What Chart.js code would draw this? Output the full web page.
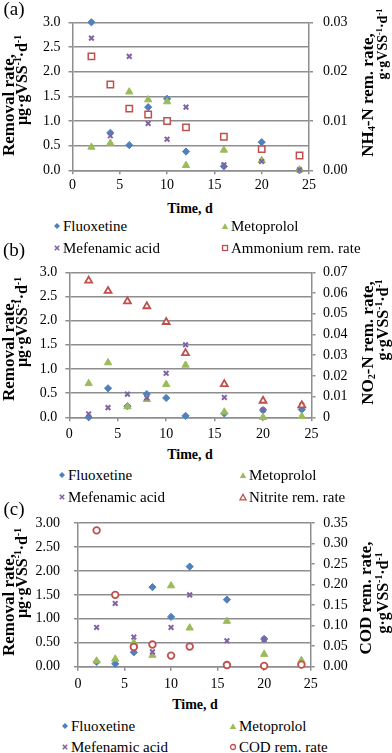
<!DOCTYPE html>
<html lang="en">
<head>
<meta charset="UTF-8">
<title>Removal rates</title>
<script src="https://cdn.jsdelivr.net/npm/chart.js"></script>
<style>
body{margin:0;background:#fff;font-family:"Liberation Serif",serif;color:#000}
#page{position:relative;width:392px;height:753px;overflow:hidden}
canvas{position:absolute;left:0}
.t{position:absolute;white-space:nowrap;line-height:1}
.ctr{transform:translate(-50%,-50%)}
.rot{transform:translate(-50%,-50%) rotate(-90deg);font-weight:bold}
.lg{position:absolute;font-family:"Liberation Serif",serif;font-size:15px;white-space:nowrap;line-height:16px;display:flex;align-items:center}
.lg span{margin-left:2px}
sub,sup{font-size:0.6em;line-height:0}
sup{vertical-align:0.6em}
sub{vertical-align:-0.2em}
</style>
</head>
<body>
<div id="page">
    <canvas id="chartA" width="392" height="195" style="top:0px"></canvas>
    <canvas id="chartB" width="392" height="195" style="top:250px"></canvas>
    <canvas id="chartC" width="392" height="195" style="top:500px"></canvas>

    <!-- panel labels -->
    <div class="t ctr" style="left:14px;top:8px;font-size:19px">(a)</div>
    <div class="t ctr" style="left:14px;top:249px;font-size:19px">(b)</div>
    <div class="t ctr" style="left:14px;top:508px;font-size:19px">(c)</div>

    <!-- axis titles (a) -->
    <div class="t rot" style="left:8px;top:105px;font-size:17px">Removal rate,</div>
    <div class="t rot" style="left:22px;top:80px;font-size:16px">μg·gVSS<sup>-1</sup>·d<sup>-1</sup></div>
    <div class="t rot" style="left:367px;top:95px;font-size:17px">NH<sub>4</sub>-N rem. rate,</div>
    <div class="t rot" style="left:383px;top:44px;font-size:14px">g·gVSS<sup>-1</sup>·d<sup>-1</sup></div>
    <div class="t ctr" style="left:190px;top:209px;font-size:14px;font-weight:bold">Time, d</div>

    <!-- axis titles (b) -->
    <div class="t rot" style="left:8px;top:350px;font-size:17px">Removal rate,</div>
    <div class="t rot" style="left:22px;top:322px;font-size:16px">μg·gVSS<sup>-1</sup>·d<sup>-1</sup></div>
    <div class="t rot" style="left:367px;top:343px;font-size:17px">NO<sub>2</sub>-N rem. rate,</div>
    <div class="t rot" style="left:383px;top:320px;font-size:16px">g·gVSS<sup>-1</sup>·d<sup>-1</sup></div>
    <div class="t ctr" style="left:190px;top:455px;font-size:14px;font-weight:bold">Time, d</div>

    <!-- axis titles (c) -->
    <div class="t rot" style="left:8px;top:605px;font-size:17px">Removal rate,</div>
    <div class="t rot" style="left:22px;top:573px;font-size:16px">μg·gVSS<sup>-1</sup>·d<sup>-1</sup></div>
    <div class="t rot" style="left:365px;top:598px;font-size:17px">COD rem. rate,</div>
    <div class="t rot" style="left:383px;top:593px;font-size:16px">g·gVSS<sup>-1</sup>·d<sup>-1</sup></div>
    <div class="t ctr" style="left:195px;top:705px;font-size:14px;font-weight:bold">Time, d</div>

    <div id="legends"></div>
</div>

<script>
    // sampling days
    const days = [2, 4, 6, 8, 10, 12, 16, 20, 24];

    // (a) ammonium period
    const fluoxA = [3.0, 0.76, 0.51, 1.28, 1.45, 0.38, 0.08, 0.57, 0.0];
    const metoA = [0.47, 0.55, 1.59, 1.43, 1.39, 0.10, 0.41, 0.20, 0.01];
    const mefenA = [2.68, 0.70, 2.31, 0.95, 0.63, 1.28, 0.11, 0.18, 0.01];
    const ammoniumA = [0.0231, 0.0174, 0.0125, 0.0113, 0.0100, 0.0087, 0.0068, 0.0043, 0.0030];

    // (b) nitrite period
    const fluoxB = [0.0, 0.60, 0.23, 0.48, 0.40, 0.03, 0.08, 0.15, 0.16];
    const metoB = [0.70, 1.13, 0.22, 0.37, 0.68, 1.08, 0.11, 0.0, 0.02];
    const mefenB = [0.07, 0.20, 0.48, 0.40, 0.91, 1.50, 0.41, 0.15, 0.25];
    const nitriteB = [0.066, 0.061, 0.056, 0.0536, 0.046, 0.031, 0.016, 0.008, 0.0058];

    // (c) COD period
    const fluoxC = [0.10, 0.06, 0.30, 1.66, 1.04, 2.09, 1.40, 0.58, 0.06];
    const metoC = [0.12, 0.16, 0.50, 0.24, 1.69, 0.81, 0.95, 0.26, 0.13];
    const mefenC = [0.82, 1.32, 0.62, 0.31, 0.82, 1.50, 0.54, 0.57, 0.04];
    const codC = [0.332, 0.175, 0.048, 0.054, 0.027, 0.049, 0.004, 0.002, 0.005];

    const BLUE = '#4F81BD', GREEN = '#9BBB59', PURPLE = '#8064A2', RED = '#C0504D';
    const GRID = '#8e8e8e';

    Chart.defaults.font.family = '"Liberation Serif", serif';
    Chart.defaults.font.size = 14;
    Chart.defaults.color = '#000';

    const pts = arr => days.map((d, i) => ({ x: d, y: arr[i] }));

    function drug(label, arr, style) {
        const base = { label: label, data: pts(arr), yAxisID: 'y', clip: false };
        if (style === 'diamond') return Object.assign(base, { pointStyle: 'rectRot', pointRadius: 3.6, backgroundColor: BLUE, borderColor: BLUE, borderWidth: 1, order: 3 });
        if (style === 'tri') return Object.assign(base, { pointStyle: 'triangle', pointRadius: 4.2, backgroundColor: GREEN, borderColor: GREEN, borderWidth: 1, order: 2 });
        return Object.assign(base, { pointStyle: 'crossRot', pointRadius: 3.3, borderColor: PURPLE, borderWidth: 2, order: 1 });
    }

    function makePanel(id, canvasTop, box, datasets, left, right) {
        const xHeight = canvasTop + 195 - box.bottom;
        const tickFont = { family: '"Liberation Serif", serif', size: 14 };
        new Chart(document.getElementById(id), {
            type: 'scatter',
            data: { datasets: datasets },
            options: {
                responsive: false,
                animation: false,
                devicePixelRatio: 1,
                layout: { padding: { top: box.top - canvasTop, left: 0, right: 0, bottom: 0 } },
                plugins: { legend: { display: false }, tooltip: { enabled: false } },
                scales: {
                    x: {
                        type: 'linear', min: 0, max: 25,
                        ticks: { stepSize: 5, padding: box.xPad, font: tickFont },
                        grid: { drawOnChartArea: false, tickLength: 4, color: GRID, lineWidth: 1.5 },
                        border: { color: GRID, width: 1.5 },
                        afterFit: s => { s.height = xHeight; }
                    },
                    y: {
                        position: 'left', min: 0, max: 3,
                        ticks: { stepSize: 0.5, padding: box.lPad, font: tickFont, callback: v => v.toFixed(left.dec) },
                        grid: { tickLength: 4, color: GRID, lineWidth: 1.5 },
                        border: { color: GRID, width: 1.5 },
                        afterFit: s => { s.width = box.left; }
                    },
                    y2: {
                        position: 'right', min: 0, max: right.max,
                        ticks: { stepSize: right.step, padding: box.rPad, font: tickFont, callback: right.fmt },
                        grid: { drawOnChartArea: false, tickLength: 4, color: GRID, lineWidth: 1.5 },
                        border: { color: GRID, width: 1.5 },
                        afterFit: s => { s.width = 392 - box.right; }
                    }
                }
            }
        });
    }

    makePanel('chartA', 0, { left: 72.5, right: 309, top: 22.3, bottom: 170.3, xPad: 3, lPad: 8, rPad: 10 }, [
        drug('Fluoxetine', fluoxA, 'diamond'),
        drug('Metoprolol', metoA, 'tri'),
        drug('Mefenamic acid', mefenA, 'x'),
        { label: 'Ammonium rem. rate', data: pts(ammoniumA), yAxisID: 'y2', clip: false, order: 0,
          pointStyle: 'rect', pointRadius: 4.5, backgroundColor: '#fff', borderColor: RED, borderWidth: 1.5 }
    ], { dec: 1 }, { max: 0.03, step: 0.01, fmt: v => v.toFixed(2) });

    makePanel('chartB', 250, { left: 69.3, right: 311.5, top: 272.3, bottom: 417.3, xPad: 5, lPad: 8, rPad: 7.5 }, [
        drug('Fluoxetine', fluoxB, 'diamond'),
        drug('Metoprolol', metoB, 'tri'),
        drug('Mefenamic acid', mefenB, 'x'),
        { label: 'Nitrite rem. rate', data: pts(nitriteB), yAxisID: 'y2', clip: false, order: 0,
          pointStyle: 'triangle', pointRadius: 4, backgroundColor: '#fff', borderColor: RED, borderWidth: 1.8 }
    ], { dec: 1 }, { max: 0.07, step: 0.01, fmt: v => (Math.abs(v) < 1e-9 ? '0' : v.toFixed(2)) });

    makePanel('chartC', 500, { left: 78, right: 310.7, top: 523, bottom: 666.7, xPad: 5, lPad: 14, rPad: 8.5 }, [
        drug('Fluoxetine', fluoxC, 'diamond'),
        drug('Metoprolol', metoC, 'tri'),
        drug('Mefenamic acid', mefenC, 'x'),
        { label: 'COD rem. rate', data: pts(codC), yAxisID: 'y2', clip: false, order: 0,
          pointStyle: 'circle', pointRadius: 3.3, backgroundColor: '#fff', borderColor: RED, borderWidth: 1.8 }
    ], { dec: 2 }, { max: 0.35, step: 0.05, fmt: v => v.toFixed(2) });

    // legends (html, two columns)
    const marks = {
        diamond: `<polygon points="4,1 7,4 4,7 1,4" fill="${BLUE}"/>`,
        tri: `<polygon points="4,1.2 7.2,7 0.8,7" fill="${GREEN}"/>`,
        x: `<path d="M1.8,1.8 L6.2,6.2 M6.2,1.8 L1.8,6.2" stroke="${PURPLE}" stroke-width="1.6"/>`,
        square: `<rect x="1.5" y="1.5" width="5" height="5" fill="#fff" stroke="${RED}" stroke-width="1.3"/>`,
        opentri: `<polygon points="4,1.3 7,6.8 1,6.8" fill="#fff" stroke="${RED}" stroke-width="1.3"/>`,
        circle: `<circle cx="4" cy="4" r="2.5" fill="#fff" stroke="${RED}" stroke-width="1.3"/>`
    };
    const legendRows = [
        { y: [226, 248], x: [57, 225], last: ['square', 'Ammonium rem. rate'] },
        { y: [475, 497], x: [62, 243], last: ['opentri', 'Nitrite rem. rate'] },
        { y: [726, 747], x: [65, 233], last: ['circle', 'COD rem. rate'] }
    ];
    let html = '';
    legendRows.forEach(p => {
        const items = [['diamond', 'Fluoxetine'], ['tri', 'Metoprolol'], ['x', 'Mefenamic acid'], p.last];
        items.forEach((it, i) => {
            const col = i % 2, row = Math.floor(i / 2);
            html += `<div class="lg" style="left:${p.x[col] - 4}px;top:${p.y[row] - 8}px">` +
                `<svg width="8" height="8">${marks[it[0]]}</svg><span>${it[1]}</span></div>`;
        });
    });
    document.getElementById('legends').innerHTML = html;
</script>
</body>
</html>
